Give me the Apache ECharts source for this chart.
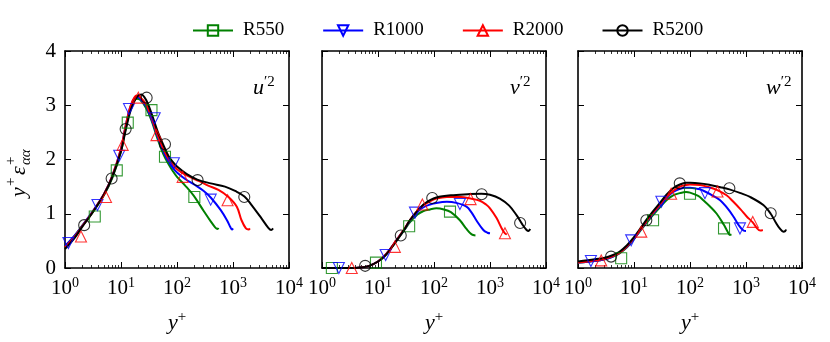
<!DOCTYPE html>
<html>
<head>
<meta charset="utf-8">
<script src="https://cdn.jsdelivr.net/npm/echarts@6/dist/echarts.min.js"></script>
<style>
html, body { margin: 0; padding: 0; background: #fff; }
#chart { width: 830px; height: 342px; }
</style>
</head>
<body>
<div id="chart"></div>
<script>
var runs = ['R550', 'R1000', 'R2000', 'R5200'];
var colors = ['#008000', '#0000ff', '#ff0000', '#000000'];
var markers = ['rect', 'triangle', 'triangle', 'circle'];
var markerRotate = [0, 180, 0, 0];

var xTicks = [1, 10, 100, 1000, 10000];
var xMinorTicks = [2, 3, 4, 5, 6, 7, 8, 9, 20, 30, 40, 50, 60, 70, 80, 90,
    200, 300, 400, 500, 600, 700, 800, 900, 2000, 3000, 4000, 5000, 6000, 7000, 8000, 9000];
var yTicks = [0, 1, 2, 3, 4];
var panelNames = ['u', 'v', 'w'];

// u'2 : curves [y+, y+ eps+]
var uu550 = [[1, 0.4], [1.5, 0.6], [2, 0.77], [3, 1.0], [5, 1.35], [7, 1.66], [10, 2.15], [12, 2.55], [15, 2.95], [19, 3.12], [22, 3.1], [28, 2.95], [35, 2.72], [45, 2.38], [57, 2.1], [70, 1.92], [85, 1.78], [100, 1.68], [140, 1.52], [200, 1.33], [300, 1.05], [400, 0.86], [480, 0.75], [530, 0.72], [550, 0.74]];
var uu1000 = [[1, 0.4], [1.5, 0.6], [2, 0.77], [3, 1.02], [5, 1.37], [7, 1.7], [10, 2.2], [12, 2.6], [15, 3.0], [19, 3.15], [22, 3.12], [28, 2.98], [35, 2.75], [45, 2.42], [57, 2.15], [70, 1.97], [85, 1.84], [100, 1.76], [140, 1.64], [210, 1.53], [300, 1.42], [400, 1.3], [600, 1.07], [780, 0.88], [900, 0.75], [960, 0.71], [1000, 0.73]];
var uu2000 = [[1, 0.38], [1.5, 0.58], [2, 0.76], [3, 1.01], [5, 1.37], [7, 1.7], [10, 2.2], [12, 2.6], [15, 3.0], [19, 3.18], [22, 3.15], [28, 3.02], [35, 2.78], [45, 2.45], [57, 2.2], [70, 2.02], [85, 1.9], [100, 1.82], [140, 1.72], [250, 1.6], [360, 1.52], [550, 1.44], [830, 1.31], [1170, 1.13], [1420, 0.88], [1700, 0.73], [1900, 0.71], [2000, 0.73]];
var uu5200 = [[1, 0.35], [1.5, 0.56], [2, 0.75], [3, 1.0], [5, 1.36], [7, 1.68], [10, 2.15], [12, 2.52], [15, 2.92], [19, 3.15], [23, 3.2], [28, 3.1], [35, 2.85], [45, 2.52], [57, 2.27], [70, 2.07], [85, 1.95], [100, 1.87], [150, 1.73], [230, 1.63], [400, 1.56], [720, 1.5], [1090, 1.42], [1600, 1.32], [2150, 1.16], [3250, 0.91], [4270, 0.74], [4800, 0.7], [5200, 0.73]];
// u'2 : markers
var uuMk550 = [[3.4, 0.95], [8.4, 1.8], [13.2, 2.68], [35, 2.91], [61, 2.05], [204, 1.31]];
var uuMk1000 = [[1.15, 0.46], [3.8, 1.16], [9.3, 2.07], [13.9, 2.93], [40, 2.76], [88, 1.93], [400, 1.26]];
var uuMk2000 = [[1.93, 0.58], [5.4, 1.31], [10.7, 2.27], [20.4, 3.14], [43, 2.45], [126, 1.68], [800, 1.25]];
var uuMk5200 = [[2.2, 0.79], [6.8, 1.65], [12.1, 2.56], [28.7, 3.14], [61, 2.28], [233, 1.62], [1590, 1.31]];

// v'2 : curves
var vv550 = [[1, 0], [3, 0], [5, 0.01], [7, 0.04], [10, 0.12], [13, 0.22], [16, 0.33], [20, 0.46], [25, 0.6], [30, 0.71], [37, 0.84], [50, 0.98], [65, 1.05], [85, 1.08], [110, 1.1], [150, 1.08], [200, 1.03], [290, 0.88], [380, 0.72], [470, 0.62], [550, 0.6]];
var vv1000 = [[1, 0], [3, 0], [5, 0.01], [7, 0.04], [10, 0.12], [13, 0.22], [16, 0.33], [20, 0.47], [25, 0.61], [30, 0.72], [37, 0.87], [50, 1.03], [65, 1.12], [85, 1.17], [110, 1.2], [170, 1.22], [250, 1.2], [380, 1.13], [470, 1.02], [570, 0.88], [760, 0.7], [900, 0.65], [1000, 0.64]];
var vv2000 = [[1, 0], [3, 0], [5, 0.01], [7, 0.04], [10, 0.12], [13, 0.22], [16, 0.33], [20, 0.47], [25, 0.61], [30, 0.73], [37, 0.88], [50, 1.05], [65, 1.16], [85, 1.23], [110, 1.28], [170, 1.31], [300, 1.31], [450, 1.28], [660, 1.24], [850, 1.17], [1000, 1.1], [1310, 0.92], [1620, 0.73], [1850, 0.64], [2000, 0.62]];
var vv5200 = [[1, 0], [3, 0], [5, 0.01], [7, 0.04], [10, 0.12], [13, 0.21], [16, 0.32], [20, 0.46], [25, 0.6], [30, 0.72], [37, 0.88], [50, 1.05], [65, 1.17], [85, 1.25], [110, 1.3], [200, 1.34], [400, 1.36], [700, 1.37], [1000, 1.35], [1500, 1.28], [2200, 1.15], [3000, 0.97], [3800, 0.8], [4500, 0.7], [4900, 0.68], [5200, 0.72]];
// v'2 : markers
var vvMk550 = [[1.5, 0], [9.2, 0.1], [36, 0.77], [193, 1.04]];
var vvMk1000 = [[2.0, 0], [13.7, 0.24], [45.7, 1.02], [290, 1.18]];
var vvMk2000 = [[3.4, 0], [20, 0.39], [62, 1.17], [450, 1.27], [1850, 0.64]];
var vvMk5200 = [[5.9, 0.04], [25.5, 0.6], [93, 1.29], [710, 1.36], [3450, 0.83]];

// w'2 : curves
var ww550 = [[1, 0.1], [2, 0.13], [3, 0.16], [4, 0.2], [5.5, 0.27], [7.5, 0.38], [10, 0.53], [13, 0.69], [17, 0.84], [22, 0.98], [29, 1.12], [38, 1.25], [50, 1.34], [66, 1.38], [85, 1.4], [100, 1.39], [140, 1.33], [173, 1.25], [230, 1.13], [300, 1.0], [400, 0.8], [470, 0.67], [515, 0.61], [550, 0.62]];
var ww1000 = [[1, 0.1], [2, 0.13], [3, 0.16], [4, 0.2], [5.5, 0.28], [7.5, 0.39], [10, 0.54], [13, 0.7], [17, 0.86], [22, 1.0], [29, 1.15], [38, 1.29], [50, 1.4], [66, 1.46], [85, 1.48], [100, 1.48], [150, 1.45], [185, 1.41], [250, 1.34], [345, 1.25], [450, 1.12], [595, 0.95], [750, 0.78], [900, 0.69], [1000, 0.68]];
var ww2000 = [[1, 0.1], [2, 0.14], [3, 0.17], [4, 0.21], [5.5, 0.28], [7.5, 0.4], [10, 0.55], [13, 0.71], [17, 0.87], [22, 1.02], [29, 1.17], [38, 1.31], [50, 1.42], [66, 1.5], [85, 1.53], [100, 1.54], [150, 1.53], [200, 1.5], [300, 1.44], [450, 1.34], [595, 1.22], [800, 1.08], [1030, 0.95], [1320, 0.84], [1550, 0.74], [1800, 0.69], [2000, 0.7]];
var ww5200 = [[1, 0.12], [2, 0.16], [3, 0.19], [4, 0.23], [5.5, 0.3], [7.5, 0.42], [10, 0.57], [13, 0.73], [17, 0.9], [22, 1.05], [29, 1.2], [38, 1.35], [50, 1.47], [66, 1.54], [85, 1.57], [100, 1.57], [150, 1.56], [228, 1.53], [350, 1.49], [505, 1.45], [800, 1.38], [1180, 1.31], [2040, 1.16], [2760, 1.0], [3400, 0.84], [4000, 0.73], [4650, 0.67], [5000, 0.68], [5200, 0.71]];
// w'2 : markers
var wwMk550 = [[5.9, 0.18], [21.9, 0.88], [100, 1.37], [405, 0.73]];
var wwMk1000 = [[1.7, 0.13], [8.9, 0.51], [30.8, 1.22], [185, 1.38], [780, 0.73]];
var wwMk2000 = [[2.6, 0.14], [13.5, 0.67], [46, 1.37], [310, 1.41], [1320, 0.85]];
var wwMk5200 = [[3.9, 0.21], [16.6, 0.88], [65.6, 1.56], [505, 1.47], [2760, 1.01]];

var lines = [[uu550, uu1000, uu2000, uu5200], [vv550, vv1000, vv2000, vv5200], [ww550, ww1000, ww2000, ww5200]];
var marks = [[uuMk550, uuMk1000, uuMk2000, uuMk5200], [vvMk550, vvMk1000, vvMk2000, vvMk5200], [wwMk550, wwMk1000, wwMk2000, wwMk5200]];

var font = 'Liberation Serif';
var panelLeft = [65, 322, 578];
var panelTop = 51;
var panelW = 224;
var panelH = 217;

var tickRich = {
    b: { fontFamily: font, fontSize: 21, color: '#000' },
    s: { fontFamily: font, fontSize: 14, color: '#000', padding: [0, 0, 10, 0] }
};
var mathRich = {
    i: { fontFamily: font, fontStyle: 'italic', fontWeight: 'normal', fontSize: 22, color: '#000' },
    s: { fontFamily: font, fontWeight: 'normal', fontSize: 15, color: '#000', padding: [0, 0, 11, 0] }
};

var grids = [], xAxes = [], yAxes = [], series = [], titles = [];

for (var p = 0; p < 3; p++) {
    grids.push({ left: panelLeft[p], top: panelTop, width: panelW, height: panelH });

    // bottom, major ticks + labels
    xAxes.push({
        gridIndex: p, type: 'log', logBase: 10, min: 1, max: 10000, position: 'bottom',
        axisLine: { show: true, lineStyle: { color: '#000', width: 1.6 } },
        axisTick: { show: true, inside: true, length: 6, customValues: xTicks, lineStyle: { color: '#000', width: 1 } },
        axisLabel: {
            customValues: xTicks, margin: 8, color: '#000',
            formatter: function (v) { return '{b|10}{s|' + Math.round(Math.log10(v)) + '}'; },
            rich: tickRich
        },
        splitLine: { show: false },
        name: '{i|y}{s|+}', nameLocation: 'middle', nameGap: 42,
        nameTextStyle: { rich: mathRich }
    });
    // bottom, minor ticks
    xAxes.push({
        gridIndex: p, type: 'log', logBase: 10, min: 1, max: 10000, position: 'bottom',
        axisLine: { show: false },
        axisTick: { show: true, inside: true, length: 3, customValues: xMinorTicks, lineStyle: { color: '#000', width: 0.8 } },
        axisLabel: { show: false }, splitLine: { show: false }
    });
    // top, major
    xAxes.push({
        gridIndex: p, type: 'log', logBase: 10, min: 1, max: 10000, position: 'top',
        axisLine: { show: true, lineStyle: { color: '#000', width: 1.6 } },
        axisTick: { show: true, inside: true, length: 6, customValues: xTicks, lineStyle: { color: '#000', width: 1 } },
        axisLabel: { show: false }, splitLine: { show: false }
    });
    // top, minor
    xAxes.push({
        gridIndex: p, type: 'log', logBase: 10, min: 1, max: 10000, position: 'top',
        axisLine: { show: false },
        axisTick: { show: true, inside: true, length: 3, customValues: xMinorTicks, lineStyle: { color: '#000', width: 0.8 } },
        axisLabel: { show: false }, splitLine: { show: false }
    });

    yAxes.push({
        gridIndex: p, type: 'value', min: yTicks[0], max: yTicks[yTicks.length - 1], interval: 1, position: 'left',
        axisLine: { show: true, lineStyle: { color: '#000', width: 1.6 } },
        axisTick: { show: true, inside: true, length: 6, lineStyle: { color: '#000', width: 1 } },
        axisLabel: { show: p === 0, margin: 9, color: '#000', fontFamily: font, fontSize: 21 },
        splitLine: { show: false }
    });
    yAxes.push({
        gridIndex: p, type: 'value', min: yTicks[0], max: yTicks[yTicks.length - 1], interval: 1, position: 'right',
        axisLine: { show: true, lineStyle: { color: '#000', width: 1.6 } },
        axisTick: { show: true, inside: true, length: 6, lineStyle: { color: '#000', width: 1 } },
        axisLabel: { show: false }, splitLine: { show: false }
    });

    titles.push({
        text: '{i|' + panelNames[p] + '}{s|′2}',
        left: panelLeft[p] + 183, top: 70,
        textStyle: { fontWeight: 'normal', rich: mathRich }
    });
}

for (var p = 0; p < 3; p++) {
    for (var k = 0; k < 4; k++) {
        series.push({
            name: runs[k], type: 'line', xAxisIndex: p * 4, yAxisIndex: p * 2,
            data: lines[p][k], smooth: 0.35, showSymbol: false,
            symbol: markers[k], symbolRotate: markerRotate[k], symbolSize: 11,
            itemStyle: { color: 'transparent', borderColor: colors[k], borderWidth: 1.2 },
            lineStyle: { color: colors[k], width: 2 },
            z: 2 + k
        });
    }
    for (var k = 0; k < 4; k++) {
        series.push({
            name: runs[k], type: 'scatter', xAxisIndex: p * 4, yAxisIndex: p * 2,
            data: marks[p][k], symbol: markers[k], symbolRotate: markerRotate[k], symbolSize: 11,
            itemStyle: { color: 'transparent', borderColor: colors[k], borderWidth: 1.1 },
            z: 7
        });
    }
}

var option = {
    backgroundColor: '#fff',
    animation: false,
    title: titles,
    legend: {
        data: runs, left: 187, top: 16,
        itemWidth: 40, itemHeight: 13, itemGap: 38,
        textStyle: { fontFamily: font, fontSize: 19, color: '#000', padding: [0, 0, 0, 5] }
    },
    grid: grids,
    xAxis: xAxes,
    yAxis: yAxes,
    series: series,
    // rotated y label: y+ eps+_aa
    graphic: [{
        type: 'group', x: 19, y: 160, rotation: Math.PI / 2,
        children: [
            { type: 'text', x: -37, y: 0, style: { text: 'y', font: 'italic 22px "' + font + '"', fill: '#000', textVerticalAlign: 'middle' } },
            { type: 'text', x: -26, y: -8, style: { text: '+', font: '15px "' + font + '"', fill: '#000', textVerticalAlign: 'middle' } },
            { type: 'text', x: -15, y: 0, style: { text: 'ε', font: 'italic 22px "' + font + '"', fill: '#000', textVerticalAlign: 'middle' } },
            { type: 'text', x: -5, y: -8, style: { text: '+', font: '15px "' + font + '"', fill: '#000', textVerticalAlign: 'middle' } },
            { type: 'text', x: -5, y: 7, style: { text: 'αα', font: 'italic 15px "' + font + '"', fill: '#000', textVerticalAlign: 'middle' } }
        ]
    }]
};

var myChart = echarts.init(document.getElementById('chart'));
myChart.setOption(option);
</script>
</body>
</html>
